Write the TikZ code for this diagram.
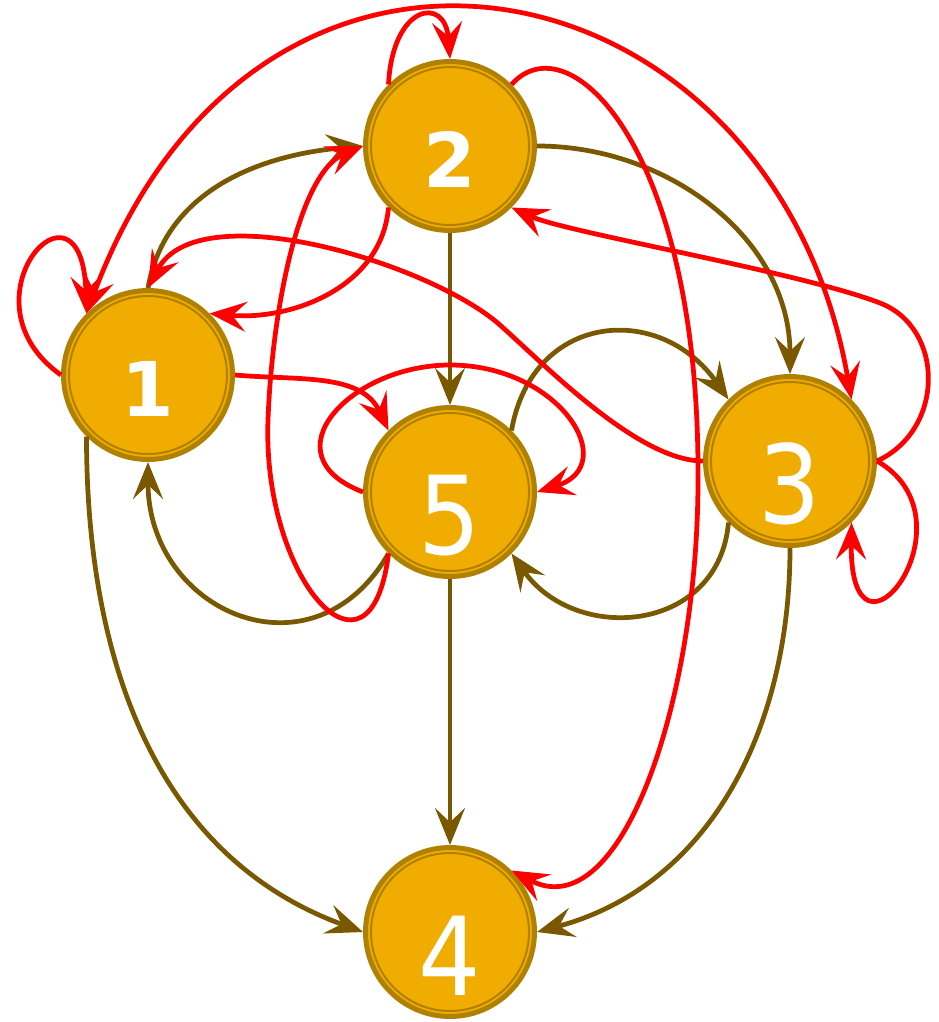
\documentclass[tikz,border=0pt]{standalone}
\usepackage{fontspec}
\usetikzlibrary{arrows.meta}
\newfontfamily\statefont{DejaVu Sans}
\newfontfamily\bigstatefont{DejaVu Sans Condensed}
\definecolor{stategold}{RGB}{240,173,0}
\definecolor{ringgold}{RGB}{176,128,0}
\definecolor{edgebrown}{RGB}{122,88,0}
\definecolor{edgered}{RGB}{255,0,0}
\tikzset{
	>={Stealth[length=21pt,width=17pt,inset=8pt]},
	state/.style={circle, fill=stategold, draw=ringgold, line width=0.1cm, minimum size=3.38cm, inner sep=0pt, text=white},
	smalldigit/.style={font=\statefont\bfseries\fontsize{43}{43}\selectfont, text height=1.66cm},
	bigdigit/.style={font=\bigstatefont\fontsize{62}{62}\selectfont, text height=2.52cm},
	ring/.style={draw=ringgold, line width=0.04cm},
	brownedge/.style={->, draw=edgebrown, line width=0.095cm},
	rededge/.style={->, draw=edgered, line width=0.095cm}
}

\begin{document}
\begin{tikzpicture}[x=0.02cm, y=0.02cm]
	%%%%% START %%%%%
	\useasboundingbox (0,0) rectangle (938,-1022);
	
	\node[state, smalldigit] (s1) at (148,-375) {1};
	\node[state, smalldigit] (s2) at (450,-146) {2};
	\node[state, bigdigit] (s3) at (790,-461) {3};
	\node[state, bigdigit] (s4) at (450,-932) {4};
	\node[state, bigdigit] (s5) at (450,-492) {5};
	\foreach \s in {s1,s2,s3,s4,s5}
		\draw[ring] (\s) circle (79);
	
	\coordinate (top5) at (450,-365);
	\coordinate (bend31) at (500,-325);
	\coordinate (bend32) at (880,-303);
	\coordinate (bend52) at (268,-420);
	\coordinate (bend24) at (698,-480);
	
	% brown edges
	\draw[brownedge] (s1.90) to[out=80,in=185] (s2.180);
	\draw[brownedge] (s2.0) to[out=0,in=90] (s3.90);
	\draw[brownedge] (s2) -- (s5);
	\draw[brownedge] (s5) -- (s4);
	\draw[brownedge] (s5.225) to[out=240,in=270,looseness=1.5] (s1.270);
	\draw[brownedge] (s5.45) to[out=80,in=125,looseness=1.4] (s3.135);
	\draw[brownedge] (s3.225) to[out=265,in=-55,looseness=1.3] (s5.315);
	\draw[brownedge] (s1.225) to[out=270,in=160] (s4.180);
	\draw[brownedge] (s3.270) to[out=270,in=15] (s4.0);
	
	% red edges
	\draw[rededge] (s2.135) .. controls +(4,80) and +(-5,64) .. (s2.90);
	\draw[rededge] (s1.180) .. controls +(-106,75) and +(-4,154) .. (s1.135);
	\draw[rededge] (s2.225) to[out=265,in=-5] (s1.45);
	\draw[rededge] (s1.0) to[out=-5,in=115] (s5.135);
	\draw[rededge] (s5.180) .. controls +(-97,37) and +(-100,0) .. (top5) .. controls +(110,0) and +(85,27) .. (s5.0);
	\draw[rededge] (s3.180) .. controls +(-65,0) and +(45,-40) .. (bend31) .. controls +(-70,62) and +(50,95) .. (s1.90);
	\draw[rededge] (s3.0) .. controls +(68,31) and +(65,-25) .. (bend32) .. controls +(-80,31) and +(54,-25) .. (s2.315);
	\draw[rededge] (s3.0) .. controls +(103,-59) and +(-2,-168) .. (s3.315);
	\draw[rededge, <->] (s1.135) .. controls +(175,468) and +(-77,443) .. (s3.45);
	\draw[rededge] (s5.225) .. controls +(-18,-147) and +(-6,-160) .. (bend52) .. controls +(4,110) and +(-64,-27) .. (s2.180);
	\draw[rededge] (s2.45) .. controls +(58,65) and +(2,330) .. (bend24) .. controls +(0,-220) and +(110,-58) .. (s4.45);
	%%%%% END %%%%%
\end{tikzpicture}
\end{document}
